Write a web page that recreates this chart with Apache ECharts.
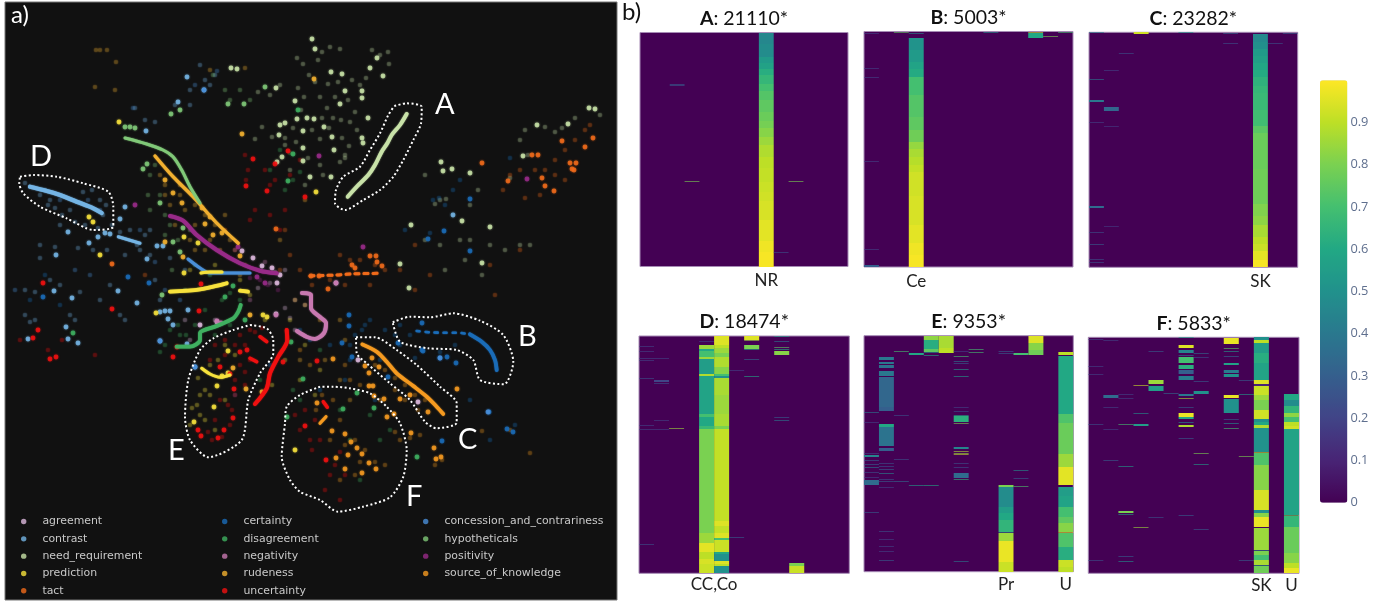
<!DOCTYPE html>
<html><head><meta charset="utf-8">
<script src="https://cdn.jsdelivr.net/npm/echarts@6/dist/echarts.min.js"></script>
<style>html,body{margin:0;padding:0;background:#fff}#c{width:1390px;height:603px}</style></head>
<body><div id="c"></div>
<script>
// ---- categories
const categories=['agreement','contrast','need_requirement','prediction','tact','certainty','disagreement','negativity','rudeness','uncertainty','concession_and_contrariness','hypotheticals','positivity','source_of_knowledge'];
const categoryColors=['#dcb8dc','#74b4e4','#c8e2a8','#f7e23c','#f06a1a','#1a6cb8','#3fb060','#c878b0','#f2b030','#f01010','#4a8fd8','#80c878','#982a88','#f59a20'];
// ---- a) embedding points, bright
const agreementPts=[[242,251],[253,258],[262,266],[272,268],[280,275],[277,283],[276,314],[217,322],[200,325],[358,360],[418,402],[336,283]];
const contrastPts=[[187,77],[204,90],[178,102],[146,131],[125,207],[120,219],[68,232],[98,237],[105,233],[110,234],[89,243],[56,255],[54,291],[72,298],[118,291],[147,259],[163,246],[157,246],[66,327],[78,343],[68,339],[28,339],[137,303],[160,312],[165,311],[170,311],[188,310],[168,319],[173,325],[160,341],[187,344],[195,367],[453,215]];
const needPts=[[312,39],[315,49],[331,72],[342,74],[345,91],[362,91],[362,98],[340,104],[370,68],[383,76],[377,58],[368,118],[324,127],[307,118],[314,119],[303,131],[332,137],[362,138],[363,143],[334,150],[303,148],[310,177],[331,177],[303,161],[295,101],[280,125],[285,123],[297,119],[279,135],[282,157],[277,162],[231,68],[237,69],[276,88],[589,108],[595,109],[568,124],[537,125],[523,156],[452,169],[443,171],[470,173],[441,162],[490,227],[482,263],[462,221],[411,225],[400,264],[409,288]];
const predictionPts=[[119,122],[89,217],[93,222],[100,255],[184,237],[198,243],[184,273],[316,192],[156,313],[228,351],[217,386],[214,407],[194,422],[295,450],[263,315],[267,317],[228,373],[222,376]];
const tactPts=[[276,229],[112,264],[482,163],[532,155],[538,155],[562,141],[593,138],[585,147],[570,163],[576,163],[572,169],[574,170],[542,178],[545,186],[554,191],[508,181],[370,256],[376,256],[382,266],[377,262],[352,265],[355,268],[328,289],[311,276],[319,276]];
const certaintyPts=[[128,277],[149,283],[43,297],[470,199],[444,231],[428,239],[470,251],[349,315],[349,326],[342,343],[352,357],[388,377],[422,350],[423,351],[440,358],[447,357],[456,363],[442,441],[489,412],[507,429],[513,432],[398,343],[422,323]];
const disagreementPts=[[288,181],[293,154],[298,110],[233,286],[225,297],[73,333],[245,320],[291,342],[303,379],[287,417],[417,457],[374,408],[343,409],[357,393]];
const negativityPts=[[217,321],[221,323],[276,315],[336,283]];
const rudenessPts=[[242,134],[314,79],[165,180],[173,193],[182,203],[202,208],[210,217],[213,235],[205,224],[222,233],[165,242],[240,256],[183,257],[250,315],[246,389],[233,368],[262,392]];
const uncertaintyPts=[[253,159],[275,164],[288,151],[246,186],[267,191],[305,197],[38,330],[33,338],[50,359],[56,357],[199,311],[177,347],[173,357],[220,367],[230,374],[247,350],[240,352],[234,389],[233,418],[198,430],[201,436],[218,438],[224,430],[305,426],[283,362],[317,361],[326,460],[43,283],[201,284],[112,309]];
const concessionPts=[[204,90],[160,341],[195,367],[440,358],[488,412]];
const hypotheticalsPts=[[125,127],[130,127],[135,128],[143,169],[147,164],[160,203],[171,114],[180,110],[228,104],[244,104],[265,87],[183,228],[173,242],[180,252],[162,295]];
const positivityPts=[[135,205],[238,247],[257,277],[265,283],[319,156],[363,247],[527,179]];
const sourcePts=[[317,403],[332,431],[345,434],[351,442],[357,448],[362,454],[369,463],[376,469],[348,455],[336,458],[345,469],[362,473],[387,417],[394,414],[384,399],[374,396],[369,386],[373,386],[400,399],[410,395],[428,412],[411,433],[434,448],[441,457],[436,459],[457,389],[372,358],[379,367],[365,366],[369,373],[333,359]];
// ---- a) embedding points, faint
const agreementDim=[[275,272],[285,270],[290,318],[295,300],[305,305],[295,330],[215,320],[190,340],[185,320],[285,308],[258,288],[270,283]];
const contrastDim=[[25,183],[40,195],[50,200],[48,205],[55,208],[70,210],[83,192],[92,190],[100,200],[106,205],[103,215],[62,215],[75,222],[85,225],[60,225],[98,228],[112,225],[120,232],[130,230],[137,245],[125,255],[107,250],[93,250],[78,248],[40,245],[55,247],[40,258],[25,290],[35,292],[50,280],[60,285],[80,292],[100,300],[110,285],[25,315],[30,322],[35,320],[70,315],[75,320],[120,315],[125,320],[160,300],[155,280],[170,258],[185,270],[150,255],[140,250],[145,235],[150,230],[215,75],[205,80],[190,90],[145,120],[155,122],[175,105],[190,105],[200,65],[210,85],[135,108]];
const needDim=[[297,58],[303,64],[318,60],[322,52],[330,47],[340,49],[309,75],[315,82],[328,84],[338,82],[352,80],[360,85],[372,50],[380,55],[389,64],[388,52],[366,78],[298,88],[304,97],[320,97],[327,108],[335,97],[348,100],[355,112],[350,122],[341,120],[333,118],[322,118],[312,130],[320,139],[329,128],[342,138],[349,146],[357,130],[345,155],[340,162],[320,165],[308,158],[296,142],[285,138],[272,137],[262,127],[255,139],[293,128],[301,110],[285,145],[290,170],[305,185],[323,175],[345,158],[280,85],[270,95],[258,92],[525,130],[545,127],[555,132],[562,128],[575,118],[600,115],[520,140],[528,155],[510,178],[440,200],[446,199],[435,204],[470,205],[425,175],[478,190],[470,240],[490,245],[505,250],[520,245],[530,245],[465,260],[440,245],[425,240],[460,240],[445,270],[482,275]];
const predictionDim=[[198,378],[205,390],[200,395],[210,395],[197,405],[200,415],[192,408],[205,420],[215,430],[190,425],[225,400],[210,365],[218,360],[235,355],[225,345],[272,385],[265,320],[290,320],[305,345],[285,360],[190,270],[215,265],[240,280],[250,295],[300,380],[320,370],[315,395]];
const tactDim=[[520,170],[510,175],[535,170],[545,170],[555,160],[565,150],[585,130],[590,125],[575,140],[555,175],[540,195],[525,198],[503,190],[565,180],[300,270],[312,285],[330,280],[345,285],[340,255],[350,260],[360,260],[375,265],[385,270],[370,285],[400,270],[415,245],[430,275],[415,290],[490,265],[520,250],[495,295],[145,275],[225,230],[285,230],[290,255],[280,270]];
const certaintyDim=[[400,345],[410,335],[385,330],[370,320],[365,325],[355,335],[350,345],[362,330],[380,360],[395,335],[400,325],[440,352],[455,345],[415,358],[300,330],[310,340],[345,380],[350,360],[375,400],[330,345],[325,330],[470,400],[515,425],[490,440],[433,200],[439,198],[445,205],[405,230],[430,233],[510,158],[460,180],[453,190],[30,300],[45,275],[60,305],[235,395],[270,365],[320,390]];
const disagreementDim=[[195,265],[210,275],[230,293],[240,300],[222,300],[205,310],[195,325],[180,335],[165,345],[160,352],[170,330],[178,325],[186,335],[215,335],[230,325],[290,153],[280,150],[270,170],[300,172],[293,180],[285,190],[260,380],[293,390],[300,400],[340,410],[370,415],[390,430],[380,440],[360,480],[350,440],[320,350]];
const negativityDim=[[272,268],[265,262],[250,300]];
const rudenessDim=[[165,195],[170,205],[180,195],[185,210],[195,205],[205,215],[215,225],[225,215],[230,240],[235,250],[210,240],[195,225],[190,240],[175,225],[180,185],[160,175],[165,185],[195,250],[205,250],[220,250],[245,265],[240,275],[100,50],[107,50],[96,50],[95,87],[115,90],[116,62],[210,70],[245,68],[280,240],[305,200],[295,300],[305,305],[320,320],[325,360],[340,320],[350,400],[345,340],[300,360],[340,380]];
const uncertaintyDim=[[235,345],[245,345],[250,360],[240,365],[245,372],[235,380],[245,385],[225,355],[215,345],[210,360],[235,395],[228,405],[232,410],[220,400],[215,420],[208,432],[212,440],[222,437],[230,425],[255,332],[262,328],[250,330],[240,335],[225,340],[245,155],[248,170],[246,180],[265,170],[275,180],[270,185],[300,160],[290,175],[255,210],[270,215],[250,220],[285,210],[280,230],[20,340],[48,350],[62,340],[95,355],[310,440],[305,410],[315,420],[312,450],[320,440],[330,475],[335,465],[325,490],[340,500],[345,475],[300,430],[340,452],[295,415]];
const concessionDim=[[217,71],[195,85],[133,108],[140,230],[155,262],[165,290],[180,300],[60,200],[45,190],[88,200],[100,210],[90,275],[75,270],[15,290]];
const hypotheticalsDim=[[155,165],[150,175],[160,195],[165,215],[170,225],[178,240],[190,230],[165,235],[150,210],[148,195],[172,270],[185,290],[230,100],[250,100],[240,90],[213,75],[225,90]];
const positivityDim=[[235,250],[250,278],[268,285],[278,290],[260,280]];
const sourceDim=[[316,410],[322,395],[333,400],[340,420],[355,440],[365,450],[360,462],[375,462],[385,465],[345,445],[330,440],[355,475],[340,480],[380,400],[395,390],[405,400],[415,395],[425,400],[418,410],[405,385],[395,378],[385,370],[375,365],[360,385],[350,380],[345,365],[410,438],[435,465],[442,460],[530,453],[482,431],[510,430],[420,435],[395,432],[400,440],[300,350],[310,365]];
// ---- a) dense runs of points
const runA=[[406.7,114],[400,125],[391.7,135],[387.3,143.3],[381.7,151.7],[375,165],[368.3,175],[356.7,186.7],[347.7,196.7]];
const runB1=[[416.7,331],[430,332.3],[443.3,332.7],[456.7,332.7],[470,334.3]];
const runB2=[[470,334.3],[481.7,341.7],[490,350],[495,360],[496.7,370]];
const runC=[[362.3,344.3],[376.7,351.7],[386.7,361.7],[396.7,373.3],[413.3,386],[426.7,396.7],[436.7,406.7],[443.3,414]];
const runD=[[30,186.7],[43.3,190],[60,195],[76.7,201.7],[93.3,208.3],[101.7,213]];
const runD2=[[118.3,236.7],[140,243.3]];
const runConcession=[[188,259],[200,268],[210,273],[250,273]];
const runRudeness=[[155,156],[173,176.7],[193,196.7],[216.7,223],[238.3,243.3]];
const runHypothetical=[[125,138],[146.7,144],[163,150],[173,156.7],[181.7,170],[190,186.7],[200,203]];
const runPositivity=[[170,216],[183,220.7],[196.7,235],[216.7,250],[240,263.3],[260,270.7],[276.7,273.3]];
const runPrediction=[[170,291.7],[200,289.3],[226.7,283.3]];
const runPrediction2=[[240,290.7],[248,291.7]];
const runPrediction3=[[201,273],[210,272],[222,272]];
const runPredictionE=[[201.7,368.3],[210,374],[220,377.3],[230,375]];
const runDisagreement=[[176.7,346.7],[190,346.7],[200,340],[200,333.3],[216.7,326],[233.3,318.3],[238.3,311.7],[240.7,305]];
const runUncertainty=[[286.7,330],[287.3,340],[278.3,356.7],[270,373.3],[266.7,388.3],[255,404]];
const runUncertainty2=[[260,336.7],[266.7,341.7]];
const runUncertainty3=[[250,358.3],[256.7,361.7]];
const runUncertainty4=[[323.3,401.7],[327.3,407.3]];
const runNegativity=[[302,293],[311,295],[311,308],[320,317],[326,323],[324,333],[315,339],[307,337],[300,333],[297,331]];
const runTact=[[310,276],[336.7,275],[350,274],[378.3,273.3]];
const runSourceF=[[320,423.3],[326,416.7]];
// ---- a) dotted outlines
const outlineA=[[394.3,106],[406.7,103.3],[421.7,106.7],[421,123.3],[413.3,140],[403.3,160],[393.3,176.7],[380,190],[363.3,200],[345,210],[335,203.3],[336,190],[343.3,176.7],[360,166.7],[370,150],[380,133.3],[388.3,115]];
const outlineB=[[392.7,322.3],[410,316.7],[430,317.3],[453.3,313.3],[480,320.7],[503.3,335],[513.3,361.7],[504,384.3],[480,380],[473.3,360],[456.7,350],[428.3,348.3],[400,341.7]];
const outlineC=[[356,337.3],[375,337.3],[396.7,350],[416.7,365],[440,386.7],[456.7,403.3],[456.7,422.7],[436.7,428.3],[425,421.7],[410,400],[390,383.3],[366.7,363.3],[356.7,353.3]];
const outlineD=[[20,176.7],[33.3,175],[56.7,176.7],[83.3,183.3],[108.3,191.7],[113.3,206.7],[113.3,226.7],[93.3,230],[66.7,218.3],[40,206.7],[23.3,193.3],[19.3,183.3]];
const outlineE=[[250,325],[266.7,328.3],[273.3,340],[273.3,353.3],[260,373.3],[248.3,400],[241.7,440],[208.3,457.3],[190,440],[185,416.7],[188.3,380],[200,350],[213.3,338.3],[233.3,330]];
const outlineF=[[320,386.7],[300,395],[286.7,406.7],[285,423.3],[281.7,456.7],[290,480],[300,491.7],[320,500],[338,511.7],[363,506.7],[390,497.3],[403.3,476.7],[406.7,450],[400,423.3],[386.7,406.7],[370,393.3],[350,388.3],[333.3,386.7]];
// ---- b) panels: [column, rowFrom%, rowTo%, value] or thin row [column, row%, value]
const panelATitle=['A','21110*'];const panelBTitle=['B','5003*'];const panelCTitle=['C','23282*'];
const panelDTitle=['D','18474*'];const panelETitle=['E','9353*'];const panelFTitle=['F','5833*'];
const panelALabels=['','','','','','','','','NR','','','','',''];
const panelBLabels=['','','','Ce','','','','','','','','','',''];
const panelCLabels=['','','','','','','','','','','','SK','',''];
const panelDLabels=['','','','','CC,Co','','','','','','','','',''];
const panelELabels=['','','','','','','','','','Pr','','','','U'];
const panelFLabels=['','','','','','','','','','','','SK','','U'];
const panelABands=[[8,0,5,.46],[8,5,10.5,.48],[8,10.5,13,.54],[8,13,15.5,.57],[8,15.5,18,.62],[8,18,22,.66],[8,22,25,.7],[8,25,29,.73],[8,29,34,.75],[8,34,38,.77],[8,38,41,.79],[8,41,44.5,.82],[8,44.5,48,.85],[8,48,53,.88],[8,53,58,.9],[8,58,64,.91],[8,64,68,.92],[8,68,72,.93],[8,72,80,.94],[8,80,89,.96],[8,89,94,.98],[8,94,100,.99],[2,21.8,.3],[2,22.6,.3],[3,63.6,.8],[10,63.6,.8],[9,93.6,.25]];
const panelBBands=[[3,2.8,8,.51],[3,8,12.9,.54],[3,12.9,16,.58],[3,16,19.3,.61],[3,19.3,27,.7],[3,27,36.3,.73],[3,36.3,42,.75],[3,42,46.9,.78],[3,46.9,50,.84],[3,50,53.3,.87],[3,53.3,56.5,.89],[3,56.5,59.7,.91],[3,59.7,70,.93],[3,70,82,.94],[3,82,90,.96],[3,90,95,.98],[3,95,100,.99],[2,0,.5,.75],[3,.6,1,.45],[8,0,.6,.5],[11,0,.8,.93],[11,.8,2.6,.6],[12,1.7,.8],[13,0,.6,.7],[0,.8,.2],[0,15.7,.2],[0,19.3,.2],[0,55.2,.2],[0,92.2,.2],[0,99.3,100,.3]];
const panelCBands=[[11,.7,4,.47],[11,4,7,.49],[11,7,10,.54],[11,10,13,.56],[11,13,16,.59],[11,16,19,.61],[11,19,23,.64],[11,23,26,.66],[11,26,33,.67],[11,33,40,.69],[11,40,43,.74],[11,43,58,.77],[11,58,73,.78],[11,73,78,.81],[11,78,82,.83],[11,82,87,.87],[11,87,90,.9],[11,90,93,.92],[11,93,97,.96],[11,97,100,.99],[0,0,.5,.4],[0,19.7,20.4,.4],[0,29,29.7,.4],[0,38.2,.2],[0,74,74.6,.35],[0,85.1,.25],[0,90,.3],[0,96.6,.25],[0,97.9,.25],[1,16,.2],[1,32,33.5,.33],[1,39.7,.18],[1,82.4,.18],[2,8.9,.25],[3,0,.7,.93],[6,0,.4,.5],[9,.4,.33],[9,4.4,.25],[12,4.4,.25],[13,.3,.3]];
const panelDBands=[[4,2,.2],[4,3.8,5.5,.85],[4,5.5,6.5,.6],[4,6.5,9,.7],[4,9,9.8,.85],[4,9.8,16,.55],[4,16,17,.88],[4,17,33,.58],[4,33,34,.7],[4,34,38,.6],[4,38,39,.67],[4,39,83,.8],[4,83,87.4,.85],[4,87.4,91,.96],[4,91,94,.9],[4,94,96,.94],[4,96,100,.92],[5,0,3.8,.95],[5,3.8,5,.9],[5,5,7,.85],[5,7,9,.8],[5,9,13,.88],[5,13,16,.82],[5,16,16.8,.7],[5,16.8,17.5,.5],[5,17.5,25,.87],[5,25,33,.85],[5,33,38,.87],[5,38,39,.8],[5,39,78,.91],[5,78,80,.95],[5,80,83,.91],[5,83,85,.95],[5,85,86,.7],[5,86,91,.92],[5,91,92,.6],[5,92,95,.5],[5,95,96,.95],[5,96,97,.9],[5,97,100,.5],[7,0,1.7,.95],[7,1.7,2.2,.85],[7,3.8,5.6,.8],[7,5.6,6,.6],[7,9.8,.35],[7,16.9,17.4,.6],[9,0,.4,.55],[9,2.1,.4],[9,4.5,.75],[9,5.6,.6],[9,6.3,8,.82],[9,34,.3],[9,35.5,.4],[10,95.8,97,.8],[10,97,100,.92],[0,4.1,.2],[0,6.2,.2],[0,9.1,.2],[0,10.3,.2],[0,17.6,.25],[0,37.6,.2],[0,39.3,.2],[0,87.5,.25],[1,9.1,.2],[1,18.5,19.5,.2],[1,20,.25],[1,35.5,.2],[1,39.3,.2],[2,38.9,.85],[6,14.3,.2],[6,84.8,.3]];
const panelEBands=[[0,32.2,32.9,.4],[0,36.7,.2],[0,49.6,.2],[0,50.7,51.3,.45],[0,52.7,.3],[0,54.4,.3],[0,55.8,.4],[0,57.6,.25],[0,60,.2],[0,61.2,63.3,.35],[0,74.6,75.3,.3],[1,8.9,10.3,.4],[1,11,12,.4],[1,12.4,13.8,.38],[1,14.8,17,.4],[1,17.7,30.4,.33],[1,30.4,31.8,.3],[1,37.6,38.8,.6],[1,38.8,46.8,.38],[1,47.7,48.9,.3],[1,54.1,.25],[1,55.2,.25],[1,56.5,.3],[1,58,.45],[1,60.9,.25],[1,61.4,.3],[1,64.3,.2],[1,82.9,.25],[1,86.3,.2],[1,89,.2],[1,91.4,.2],[1,95.2,.3],[2,6.6,.7],[2,33.5,.25],[2,52.4,.25],[2,61.4,.35],[3,7.5,8.3,.6],[3,63.4,.55],[4,0,1.8,.83],[4,1.8,5.8,.62],[4,5.8,6.8,.75],[4,7,7.5,.5],[4,8.2,.6],[4,63.4,.6],[5,0,5,.87],[5,5,7.5,.9],[6,6.6,.2],[6,8.6,.7],[6,10.7,.4],[6,11.6,.3],[6,14.3,.55],[6,17.2,.55],[6,30.4,.2],[6,31.8,.25],[6,33.6,.6],[6,34,36.6,.63],[6,37.1,.8],[6,47,48,.45],[6,48.9,.87],[6,49.6,.85],[6,50.1,.9],[6,53.8,.25],[6,55.5,.25],[6,58.3,60.5,.35],[6,60.9,.65],[6,95.3,.4],[7,5.8,.7],[7,6.9,.7],[9,6.4,.3],[9,7.5,.3],[9,63.4,64,.8],[9,64,72.5,.48],[9,72.5,75.3,.55],[9,75.3,78,.6],[9,78,83,.65],[9,83,83.8,.4],[9,83.8,87,.85],[9,87,96,.97],[9,96,100,.92],[10,7.3,8,.7],[10,57,.5],[10,60.5,.3],[10,63.7,.72],[11,0,3.2,.95],[11,3.2,6,.82],[11,6,8,.78],[13,7,8,.9],[13,8.5,33,.6],[13,33,37,.72],[13,37,50,.77],[13,50,55.5,.85],[13,55.5,63.3,.96],[13,64.2,68,.55],[13,68,72.5,.58],[13,72.5,76.7,.7],[13,76.7,79.5,.75],[13,79.5,83,.82],[13,83,83.5,.98],[13,83.8,89.4,.72],[13,89.4,95,.62],[13,95,97.9,.92],[13,97.9,100,.9]];
const panelFBands=[[0,.7,.2],[0,12,.2],[0,15.5,.2],[0,36.9,.25],[0,94.5,.25],[1,1.1,.2],[1,24.6,25.6,.35],[1,29.5,.2],[1,38.8,.2],[1,52.1,.3],[2,24,.2],[2,25.6,.2],[2,36.9,.7],[2,54.5,.55],[2,73.5,74.3,.8],[2,74.8,75.4,.55],[2,92.8,.3],[2,94.9,.5],[3,20,20.5,.92],[3,32,.5],[3,36.7,37.4,.55],[3,80.3,81,.85],[4,5.6,.3],[4,18,19.8,.85],[4,20.6,22.6,.55],[4,76,.25],[5,23.7,.35],[6,0,.5,.55],[6,3.2,4.4,.95],[6,5.4,6.8,.45],[6,7.5,.4],[6,8.5,10.7,.7],[6,11.9,13.6,.63],[6,14,15.5,.3],[6,16.4,18,.42],[6,24.2,24.8,.4],[6,25.7,26.3,.88],[6,29.5,.3],[6,32.2,33.9,.97],[6,33.9,34.7,.6],[6,36,.5],[6,37.2,38,.88],[6,42.5,.3],[6,75.4,.3],[7,6.6,.35],[7,8.2,.25],[7,18.6,.3],[7,22.6,24,.5],[7,48.9,.8],[7,53.5,54,.55],[7,81.2,.3],[9,.4,2.8,.97],[9,4.7,.75],[9,6,.55],[9,7.9,.35],[9,10.7,11.7,.58],[9,13.8,15,.42],[9,15.5,16.7,.5],[9,24.4,25.6,.97],[9,26,32.2,.5],[9,34.7,.3],[9,36.3,.5],[9,38.6,.7],[10,18.1,.3],[10,24.2,.55],[10,50.3,.8],[10,94.5,.3],[11,0,1.1,.5],[11,1.1,2.5,.9],[11,2.5,6.8,.55],[11,6.8,11,.62],[11,11,18,.58],[11,18,19.8,.95],[11,19.8,20.6,.1],[11,20.6,24.4,.92],[11,24.4,26.6,.85],[11,26.6,30.8,.8],[11,30.8,34.7,.93],[11,34.7,35.9,.5],[11,35.9,37.3,.6],[11,37.3,38.6,.88],[11,38.6,48.4,.5],[11,48.4,49.2,.92],[11,49.2,54,.72],[11,54,64.7,.82],[11,64.7,73.2,.94],[11,73.2,74.6,.5],[11,74.6,76,.82],[11,76,80.2,.97],[11,80.2,81,.03],[11,81,90.1,.85],[11,90.1,90.5,.4],[11,90.5,92.2,.8],[11,92.2,94.3,.7],[11,94.3,96.5,.87],[11,96.5,97,.5],[11,97,100,.78],[13,24.2,26.6,.6],[13,26.6,29,.48],[13,29,32.2,.65],[13,32.2,33.6,.83],[13,33.6,35.7,.7],[13,35.7,37.6,.9],[13,37.6,38.8,.93],[13,38.8,75.3,.58],[13,75.3,75.7,.8],[13,75.7,80.2,.66],[13,80.2,91.5,.77],[13,91.5,95.8,.82],[13,95.8,97.9,.9],[13,97.9,100,.97]];
const colorTicks=[0,.1,.2,.3,.4,.5,.6,.7,.8,.9];
const viridis=['#440154','#482475','#414487','#355f8d','#2a788e','#21918c','#22a884','#44bf70','#7ad151','#bddf26','#fde725'];

// ---- assembling
const brightSets=[agreementPts,contrastPts,needPts,predictionPts,tactPts,certaintyPts,disagreementPts,negativityPts,rudenessPts,uncertaintyPts,concessionPts,hypotheticalsPts,positivityPts,sourcePts];
const dimSets=[agreementDim,contrastDim,needDim,predictionDim,tactDim,certaintyDim,disagreementDim,negativityDim,rudenessDim,uncertaintyDim,concessionDim,hypotheticalsDim,positivityDim,sourceDim];
const series=[];
categories.forEach((name,i)=>{
  series.push({type:'scatter',name,xAxisIndex:0,yAxisIndex:0,data:brightSets[i],symbolSize:4.8,z:3,silent:true,itemStyle:{color:categoryColors[i],shadowBlur:2,shadowColor:categoryColors[i]}});
});
categories.forEach((name,i)=>{
  series.push({type:'scatter',name,xAxisIndex:0,yAxisIndex:0,data:dimSets[i],symbolSize:4.6,z:2,silent:true,itemStyle:{color:categoryColors[i],opacity:.2,shadowBlur:2,shadowColor:categoryColors[i]}});
});
function run(name,data,cat,width,extra){
  const lineStyle=Object.assign({color:categoryColors[cat],width,cap:'round',join:'round',shadowBlur:1.5,shadowColor:categoryColors[cat]},extra||{});
  series.push({type:'line',name,xAxisIndex:0,yAxisIndex:0,data,showSymbol:false,silent:true,smooth:.3,z:4,lineStyle});
}
const I=Object.fromEntries(categories.map((c,i)=>[c,i]));
run('run A',runA,I.need_requirement,3.8);
run('run B1',runB1,I.certainty,2.6,{type:[3,6]});
run('run B2',runB2,I.certainty,3.8);
run('run C',runC,I.source_of_knowledge,3.6);
run('run D',runD,I.contrast,4.2);
run('run D2',runD2,I.contrast,3);
run('run cc',runConcession,I.concession_and_contrariness,3);
run('run ru',runRudeness,I.rudeness,3.2);
run('run hy',runHypothetical,I.hypotheticals,3);
run('run po',runPositivity,I.positivity,4);
run('run pr',runPrediction,I.prediction,3.8);
run('run pr2',runPrediction2,I.prediction,3.8);
run('run pr3',runPrediction3,I.prediction,3);
run('run prE',runPredictionE,I.prediction,3);
run('run di',runDisagreement,I.disagreement,3.8);
run('run un',runUncertainty,I.uncertainty,4);
run('run un2',runUncertainty2,I.uncertainty,3.4);
run('run un3',runUncertainty3,I.uncertainty,3.4);
run('run un4',runUncertainty4,I.uncertainty,3.4);
run('run ne',runNegativity,I.negativity,4);
run('run ta',runTact,I.tact,3,{type:[4,5]});
run('run so',runSourceF,I.source_of_knowledge,3);
[outlineA,outlineB,outlineC,outlineD,outlineE,outlineF].forEach((o,i)=>{
  series.push({type:'line',name:'outline '+i,xAxisIndex:0,yAxisIndex:0,data:o.concat([o[0]]),showSymbol:false,silent:true,smooth:.25,z:5,
    lineStyle:{color:'#fff',width:2,type:[2,2.4]}});
});
const panels=[
 {b:panelABands,l:panelALabels,t:panelATitle,x:640,y:32.5,w:208,h:234,m:6},
 {b:panelBBands,l:panelBLabels,t:panelBTitle,x:864,y:31.5,w:209,h:235.5,m:6},
 {b:panelCBands,l:panelCLabels,t:panelCTitle,x:1089,y:32.3,w:208.7,h:235,m:6},
 {b:panelDBands,l:panelDLabels,t:panelDTitle,x:639,y:336,w:210.3,h:237.3,m:3,pad:15},
 {b:panelEBands,l:panelELabels,t:panelETitle,x:864,y:335.7,w:209.3,h:236,m:4},
 {b:panelFBands,l:panelFLabels,t:panelFTitle,x:1088.3,y:337.3,w:210.7,h:236,m:4}
];
const grids=[{left:5,top:2,width:612,height:598,show:true,backgroundColor:'#111111',borderColor:'#777',borderWidth:1}];
const xAxes=[{type:'value',gridIndex:0,min:5,max:617,show:false}];
const yAxes=[{type:'value',gridIndex:0,min:2,max:600,inverse:true,show:false}];
const titles=[];
const heatIdx=[];
function renderBand(p,api){
  const a=api.coord([api.value(0),api.value(1)]),b=api.coord([api.value(0),api.value(2)]);
  const w=api.size([1,0])[0];
  const top=Math.round(a[1]),bottom=Math.max(Math.round(b[1]),top+1);
  // one-pixel rows are softened against the background, as in the picture
  return {type:'rect',shape:{x:a[0]-w/2,y:top,width:w,height:bottom-top},style:{fill:api.visual('color'),opacity:bottom-top<2?.6:1}};
}
panels.forEach((p,i)=>{
  const g=i+1;
  grids.push({left:p.x,top:p.y,width:p.w,height:p.h,show:true,backgroundColor:'#440154',borderColor:'#a68bb5',borderWidth:1});
  xAxes.push({type:'category',gridIndex:g,data:p.l,axisLine:{show:false},axisTick:{show:false},splitLine:{show:false},
    axisLabel:{interval:0,hideOverlap:false,color:'#222',fontFamily:'Lato',fontSize:17,margin:p.m,padding:p.pad?[0,0,0,p.pad]:0}});
  yAxes.push({type:'value',gridIndex:g,min:0,max:100,inverse:true,show:false});
  titles.push({text:'{b|'+p.t[0]+'}: '+p.t[1],left:p.x+p.w/2,top:p.y-24,textAlign:'center',padding:0,
    textStyle:{fontFamily:'Lato',fontWeight:'normal',fontSize:19.5,color:'#111',rich:{b:{fontFamily:'Lato',fontWeight:'bold',fontSize:19.5,color:'#111'}}}});
  heatIdx.push(series.length);
  series.push({type:'custom',name:'panel '+p.t[0],xAxisIndex:g,yAxisIndex:g,silent:true,z:2,renderItem:renderBand,
    encode:{x:0,y:[1,2]},dimensions:['col','from','to','value'],
    data:p.b.map(r=>r.length===3?[r[0],r[1],r[1]+.4,r[2]]:r)});
});
// colour scale axis
grids.push({left:1320,top:80.3,width:27.4,height:422.4,show:false});
xAxes.push({type:'value',gridIndex:7,show:false,min:0,max:1});
yAxes.push({type:'value',gridIndex:7,position:'right',min:0,max:1,interval:.1,splitLine:{show:false},axisLine:{show:false},axisTick:{show:false},
  axisLabel:{margin:3,color:'#5f6f8e',fontFamily:'Open Sans',fontSize:12.8,formatter:v=>colorTicks.some(t=>Math.abs(t-v)<1e-6)?String(+v.toFixed(1)):''}});
function legendCol(names,left){
  return {data:names,left,top:515,orient:'vertical',icon:'circle',itemWidth:5.4,itemHeight:5.4,itemGap:4.33,padding:0,selectedMode:false,
    textStyle:{color:'#c9c9c9',fontFamily:'DejaVu Sans',fontSize:10.9,lineHeight:13,padding:[0,0,0,11]}};
}
function label(text,x,y,size,fill){return {type:'text',left:x,top:y,z:20,silent:true,style:{text,fill:fill||'#fff',fontFamily:'Lato',fontSize:size}};}
const chart=echarts.init(document.getElementById('c'),null,{renderer:'canvas'});
chart.setOption({
  animation:false,backgroundColor:'#fff',
  title:titles,grid:grids,xAxis:xAxes,yAxis:yAxes,series,
  legend:[legendCol(categories.filter((c,i)=>[0,1,2,3,4].includes(i)),21),legendCol(categories.filter((c,i)=>[5,6,7,8,9].includes(i)),222),legendCol(categories.filter((c,i)=>[10,11,12,13].includes(i)),423)],
  visualMap:{type:'continuous',min:0,max:1,seriesIndex:heatIdx,dimension:3,left:1320,top:80.3,itemWidth:27.4,itemHeight:422.4,padding:0,calculable:false,hoverLink:false,realtime:false,inRange:{color:viridis},text:null,showLabel:false,textStyle:{fontSize:0}},
  graphic:{elements:[
    label('a)',11,3,24),label('b)',622,0,24,'#111'),
    label('A',435,90,29),label('B',518,322,29),label('C',458,425,29),label('D',30,142,29),label('E',168,436,29),label('F',406,482,29)
  ]}
});
</script></body></html>
